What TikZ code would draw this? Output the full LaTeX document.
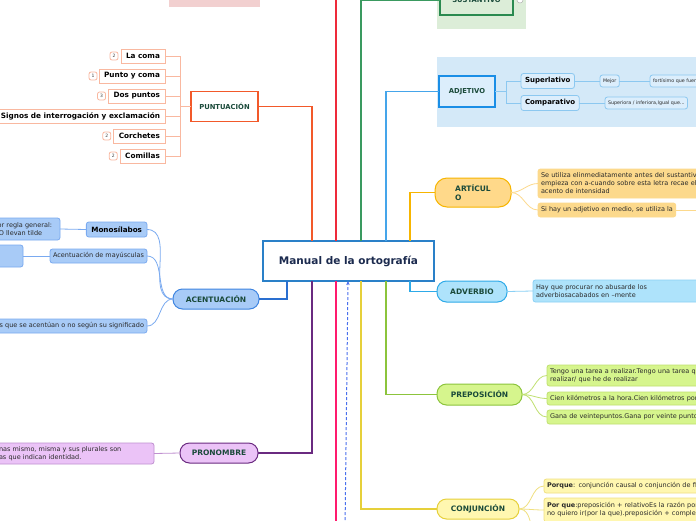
\documentclass[tikz,border=0pt]{standalone}
\usepackage{fontspec}
\setmainfont{DejaVu Sans}
\usetikzlibrary{arrows.meta}

\definecolor{mainblue}{HTML}{2A80C8}
\definecolor{maintext}{HTML}{1B2A4E}
\definecolor{labeltext}{HTML}{1A4A3A}
\definecolor{leaftext}{HTML}{2A2A2A}
\definecolor{puntline}{HTML}{F2592A}
\definecolor{puntlight}{HTML}{F9B8A0}
\definecolor{acentfill}{HTML}{A8CBF7}
\definecolor{acentdraw}{HTML}{3F85E0}
\definecolor{acentleaf}{HTML}{7AAAF0}
\definecolor{acentline}{HTML}{2A6FD0}
\definecolor{pronfill}{HTML}{EBC3F7}
\definecolor{prondraw}{HTML}{6A2A80}
\definecolor{pronleaf}{HTML}{C090D0}
\definecolor{artfill}{HTML}{FFD98A}
\definecolor{artdraw}{HTML}{F7B500}
\definecolor{artleaf}{HTML}{FCD98C}
\definecolor{advfill}{HTML}{AEE3FB}
\definecolor{advdraw}{HTML}{2EAAE8}
\definecolor{advleaf}{HTML}{8AD0F5}
\definecolor{prepfill}{HTML}{D6F58D}
\definecolor{prepdraw}{HTML}{8CC43C}
\definecolor{prepleaf}{HTML}{C0E070}
\definecolor{conjfill}{HTML}{FFF7B0}
\definecolor{conjdraw}{HTML}{E6D03A}
\definecolor{conjleaf}{HTML}{F0E080}
\definecolor{adjpanel}{HTML}{D4E9F8}
\definecolor{adjfill}{HTML}{DCEEFC}
\definecolor{adjdraw}{HTML}{1A8EE6}
\definecolor{adjleaf}{HTML}{8CC8F0}
\definecolor{adjline}{HTML}{45A5EA}
\definecolor{sustpanel}{HTML}{DCEDD8}
\definecolor{sustdraw}{HTML}{2A8A50}
\definecolor{sustline}{HTML}{3A9A60}
\definecolor{pinkpanel}{HTML}{F2D0D0}
\definecolor{redline}{HTML}{EE2A3A}
\definecolor{pinkline}{HTML}{FF1A6E}
\definecolor{dashblue}{HTML}{4A70EE}

\tikzset{
  every node/.style={inner sep=0pt, outer sep=0pt},
  topic/.style={draw, line width=1.6pt, text=labeltext,
    font=\bfseries\fontsize{6.8}{8}\selectfont, align=center},
  pill/.style={draw, line width=1pt, rounded corners=9.5pt, text=labeltext,
    font=\bfseries\fontsize{7.5}{9}\selectfont, align=center},
  leaf/.style={draw, line width=0.8pt, rounded corners=2.5pt, text=leaftext,
    font=\fontsize{6.5}{8}\selectfont, align=left, inner xsep=3pt},
  puntleaf/.style={draw=puntlight, fill=white, line width=1pt, minimum height=14,
    inner xsep=5pt, font=\bfseries\fontsize{7.3}{8}\selectfont},
  badge/.style={draw=puntlight, fill=white, line width=0.8pt, rounded corners=2pt,
    minimum width=8, minimum height=8, text=darkgray, font=\fontsize{4.5}{5}\selectfont},
  tinyleaf/.style={leaf, draw=adjleaf, fill=adjfill, minimum height=12,
    font=\fontsize{4.8}{6}\selectfont},
}

\begin{document}
\begin{tikzpicture}[x=1pt,y=-1pt]
\useasboundingbox (0,0) rectangle (696,520);
\fill[white] (0,0) rectangle (696,520);

% panels behind the topics
\fill[pinkpanel] (169,0) rectangle (260,7);
\fill[sustpanel] (437,0) rectangle (526,29);
\fill[adjpanel] (437,57) rectangle (700,127);

% central topic
\node[topic, draw=mainblue, fill=white, text=maintext, minimum width=171, minimum height=40,
  font=\bfseries\fontsize{10.5}{12}\selectfont] (main) at (348.5,261) {Manual de la ortografía};

% branches leaving the page
\draw[redline, line width=1.2pt] ([xshift=73]main.north west) -- ++(0,-260);
\draw[pinkline, line width=1.2pt] ([xshift=73]main.south west) -- ++(0,260);
\coordinate (dashsrc) at (345,530);
\draw[dashblue, line width=1pt, dash pattern=on 3pt off 2pt, -{Stealth[length=4pt,width=3.5pt]}]
  (dashsrc) -- ([xshift=85]main.south west);

% PUNTUACION
\node[topic, draw=puntline, fill=white, minimum width=67, minimum height=30] (punt) at (224.5,106.5) {PUNTUACIÓN};
\draw[puntline, line width=1.2pt] (punt.east) -| ([xshift=49]main.north west);

\node[puntleaf, anchor=east] (coma) at (165,56) {La coma};
\node[puntleaf, anchor=east] (pycoma) at (165,76) {Punto y coma};
\node[puntleaf, anchor=east] (dosp) at (165,96) {Dos puntos};
\node[puntleaf, anchor=east] (signos) at (165,116) {Signos de interrogación y exclamación};
\node[puntleaf, anchor=east] (corch) at (165,136) {Corchetes};
\node[puntleaf, anchor=east] (comil) at (165,156) {Comillas};
\node[badge, anchor=east] (bcoma) at ([xshift=-3]coma.west) {2};
\node[badge, anchor=east] (bpycoma) at ([xshift=-2]pycoma.west) {1};
\node[badge, anchor=east] (bdosp) at ([xshift=-3]dosp.west) {3};
\node[badge, anchor=east] (bcorch) at ([xshift=-3]corch.west) {2};
\node[badge, anchor=east] (bcomil) at ([xshift=-3]comil.west) {2};

\draw[puntlight, line width=1pt] (punt.west) -- ++(-11,0) coordinate (pjoin);
\foreach \n in {coma,pycoma,dosp,signos,corch,comil}
  \draw[puntlight, line width=1pt] (\n.east) -| (pjoin);

% ACENTUACION
\node[pill, fill=acentfill, draw=acentdraw, minimum width=86, minimum height=20] (acent) at (216,299) {ACENTUACIÓN};
\draw[acentline, line width=1.3pt] (acent.east) -| ([xshift=24]main.south west);

\node[leaf, draw=acentleaf, fill=acentfill, anchor=east, minimum height=15, inner xsep=5pt,
  font=\bfseries\fontsize{7.2}{8}\selectfont, text=black] (mono) at (147,229.5) {Monosílabos};
\node[leaf, draw=acentleaf, fill=acentfill, anchor=east, minimum height=14] (mayus) at (147,256) {Acentuación de mayúsculas};
\node[leaf, draw=acentleaf, fill=acentfill, anchor=east, minimum height=14] (signif) at (147,326) {Palabras que se acentúan o no según su significado};
\node[leaf, draw=acentleaf, fill=acentfill, anchor=west, minimum height=22, text width=63] (regla) at (-9,229) {Por regla general:\\NO llevan tilde};
\node[leaf, draw=acentleaf, fill=acentfill, anchor=east, minimum height=22, minimum width=40] (mayusdet) at (23,256) {};

\draw[acentleaf, line width=0.8pt] (mono.west) -- (regla.east);
\draw[acentleaf, line width=0.8pt] (mayus.west) -- (mayusdet.east);
\foreach \n in {mono,mayus,signif}
  \draw[acentleaf, line width=0.8pt] (acent.west) to[out=180,in=0] (\n.east);

% PRONOMBRE
\node[pill, fill=pronfill, draw=prondraw, minimum width=78, minimum height=20] (pron) at (219,453) {PRONOMBRE};
\draw[prondraw, line width=1.2pt] (pron.east) -| ([xshift=49]main.south west);
\node[leaf, draw=pronleaf, fill=pronfill, anchor=west, minimum height=21, text width=152] (pron1) at (-4,453.5)
  {nas mismo, misma y sus plurales son\\as que indican identidad.};
\draw[pronleaf, line width=0.8pt] (pron.west) -- (pron1.east);

% SUSTANTIVO
\node[topic, draw=sustdraw, fill=sustpanel, minimum width=73, minimum height=30] (sust) at (476.5,0) {SUSTANTIVO};
\node[draw=gray!60, fill=white, line width=0.5pt, circle, minimum size=6, font=\fontsize{4}{4}\selectfont] (sustfold) at (520,0) {-};
\draw[sustline, line width=1.2pt] ([xshift=98]main.north west) |- (sust.west);

% ADJETIVO
\node[topic, draw=adjdraw, fill=adjfill, minimum width=56, minimum height=31] (adj) at (467,91.5) {ADJETIVO};
\draw[adjline, line width=1.2pt] ([xshift=123]main.north west) |- (adj.west);
\node[leaf, draw=adjleaf, fill=adjfill, anchor=west, minimum height=15, inner xsep=4pt,
  font=\bfseries\fontsize{7}{8}\selectfont, text=black] (superl) at (521,81) {Superlativo};
\node[leaf, draw=adjleaf, fill=adjfill, anchor=west, minimum height=15, inner xsep=4pt,
  font=\bfseries\fontsize{7}{8}\selectfont, text=black] (compar) at (521,103) {Comparativo};
\node[tinyleaf, anchor=west] (mejor) at (600,81) {Mejor};
\node[tinyleaf, anchor=west] (fortis) at (650,81) {fortísimo que fuertísimo};
\node[tinyleaf, anchor=west] (superi) at (605,103) {Superiora / inferiora,Igual que...};
\draw[adjleaf, line width=1pt] (adj.east) -- ++(11,0) coordinate (ajoin);
\foreach \n in {superl,compar}
  \draw[adjleaf, line width=1pt] (\n.west) -| (ajoin);
\draw[adjleaf, line width=0.8pt] (superl.east) -- (mejor.west);
\draw[adjleaf, line width=0.8pt] (mejor.east) -- (fortis.west);
\draw[adjleaf, line width=0.8pt] (compar.east) -- (superi.west);

% ARTICULO
\node[pill, fill=artfill, draw=artdraw, rounded corners=12pt, minimum width=76, minimum height=29, align=left] (art) at (473,192.5) {ARTÍCUL\\O};
\draw[artdraw, line width=1.2pt] ([xshift=147]main.north west) |- (art.west);
\node[leaf, draw=artleaf, fill=artleaf, anchor=north west, minimum height=29, text width=200] (art1) at (538,169)
  {Se utiliza elinmediatamente antes del sustantivo que\\empieza con a-cuando sobre esta letra recae el\\acento de intensidad};
\node[leaf, draw=artleaf, fill=artleaf, anchor=west, minimum height=14] (art2) at (538,210) {Si hay un adjetivo en medio, se utiliza la};
\coordinate (artnext) at (700,210);
\foreach \n in {art1,art2}
  \draw[artleaf, line width=0.8pt] (art.east) to[out=0,in=180] (\n.west);
\draw[artleaf, line width=0.8pt] (art2.east) -- (artnext);

% ADVERBIO
\node[pill, fill=advfill, draw=advdraw, minimum width=70, minimum height=21] (adv) at (472,291.5) {ADVERBIO};
\draw[advdraw, line width=1.2pt] ([xshift=147]main.south west) |- (adv.west);
\node[leaf, draw=advleaf, fill=advfill, anchor=north west, minimum height=22, text width=200] (adv1) at (533,280)
  {Hay que procurar no abusarde los\\adverbiosacabados en –mente};
\draw[advleaf, line width=0.8pt] (adv.east) -- (adv1.west);

% PREPOSICION
\node[pill, fill=prepfill, draw=prepdraw, minimum width=85, minimum height=21] (prep) at (479.5,394.5) {PREPOSICIÓN};
\draw[prepdraw, line width=1.2pt] ([xshift=123]main.south west) |- (prep.west);
\node[leaf, draw=prepleaf, fill=prepfill, anchor=north west, minimum height=21, text width=200] (prep1) at (547,365)
  {Tengo una tarea a realizar.Tengo una tarea que\\realizar/ que he de realizar};
\node[leaf, draw=prepleaf, fill=prepfill, anchor=west, minimum height=13, text width=200] (prep2) at (547,398.5)
  {Cien kilómetros a la hora.Cien kilómetros por hora};
\node[leaf, draw=prepleaf, fill=prepfill, anchor=west, minimum height=14, text width=200] (prep3) at (547,417)
  {Gana de veintepuntos.Gana por veinte puntos};
\foreach \n in {prep1,prep2,prep3}
  \draw[prepleaf, line width=0.8pt] (prep.east) to[out=0,in=180] (\n.west);

% CONJUNCION
\node[pill, fill=conjfill, draw=conjdraw, minimum width=82, minimum height=20] (conj) at (478,509) {CONJUNCIÓN};
\draw[conjdraw, line width=1.2pt] ([xshift=98]main.south west) |- (conj.west);
\node[leaf, draw=conjleaf, fill=conjfill, anchor=west, minimum height=14, text width=200] (conj1) at (544,486)
  {\textbf{Porque}: conjunción causal o conjunción de finalidad};
\node[leaf, draw=conjleaf, fill=conjfill, anchor=north west, minimum height=24, text width=200] (conj2) at (544,498)
  {\textbf{Por que}:preposición + relativoEs la razón por la que\\no quiero ir(por la que).preposición + complemento};
\coordinate (conjnext) at (544,545);
\foreach \n in {conj1,conj2}
  \draw[conjleaf, line width=0.8pt] (conj.east) to[out=0,in=180] (\n.west);
\draw[conjleaf, line width=0.8pt] (conj.east) to[out=0,in=180] (conjnext);
\end{tikzpicture}
\end{document}
